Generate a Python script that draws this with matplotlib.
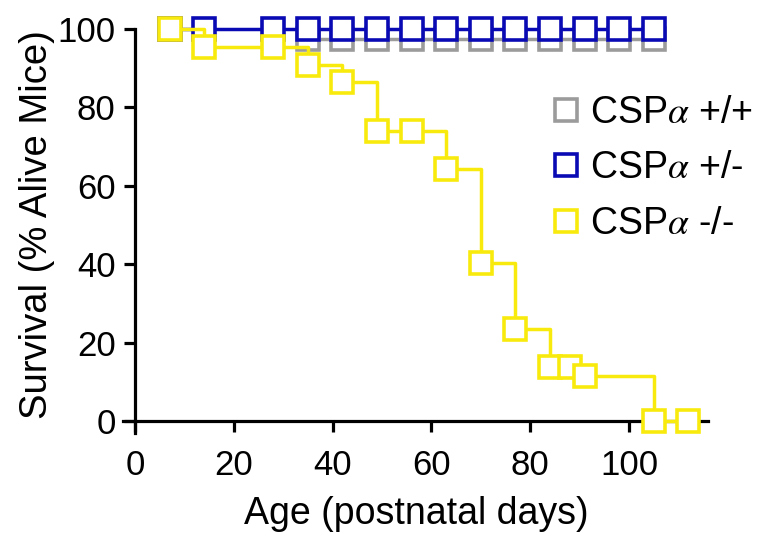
import matplotlib
matplotlib.use('Agg')
import matplotlib.pyplot as plt
from matplotlib.lines import Line2D

plt.rcParams['font.family'] = ['Liberation Sans', 'DejaVu Sans']
plt.rcParams['mathtext.fontset'] = 'stix'

# Kaplan-Meier style survival data
wt_days = [35, 42, 49, 56, 63, 70, 77, 84, 91, 98, 105]
wt_surv = [97.5] * 11

het_days = [7, 14, 28, 35, 42, 49, 56, 63, 70, 77, 84, 91, 98, 105]
het_surv = [100] * 14

ko_days = [7, 14, 28, 35, 42, 49, 56, 63, 70, 77, 84, 88, 91, 105, 112]
ko_surv = [100, 95.5, 95.5, 90.9, 86.4, 73.9, 73.9, 64.3, 40.2, 23.5, 13.9, 13.9, 11.6, 0, 0]

labels = [r'CSP$\alpha$ +/+', r'CSP$\alpha$ +/-', r'CSP$\alpha$ -/-']
colors = ['#9b9b9b', '#0a0ab4', '#f7ea0c']

W, H = 771, 533
fig = plt.figure(figsize=(W/100, H/100), dpi=100)
# axes placed so that day 0 -> x=135px, 4.94 px/day ; 0% -> y=421px, 3.92 px/%
x0, xs = 135, 4.94
y0, ys = 421, 3.92
xlo, xhi = -4, 118
ylo, yhi = -5, 105
left = (x0 + xs*xlo) / W
right = (x0 + xs*xhi) / W
bottom = 1 - (y0 - ys*ylo) / H
top = 1 - (y0 - ys*yhi) / H
ax = fig.add_axes([left, bottom, right-left, top-bottom])

ms, mew, lw = 16.4, 2.6, 2.5
for d, s, c, z in [(wt_days, wt_surv, colors[0], 2),
                   (het_days, het_surv, colors[1], 3),
                   (ko_days, ko_surv, colors[2], 4)]:
    ax.plot(d, s, drawstyle='steps-post', color=c, lw=lw, zorder=z, clip_on=False)
    ax.plot(d, s, ls='none', marker='s', ms=ms, mew=mew, mec=c, mfc='white',
            zorder=z, clip_on=False)

ax.set_xlim(xlo, xhi)
ax.set_ylim(ylo, yhi)
for sp in ['top', 'right']:
    ax.spines[sp].set_visible(False)
ax.spines['left'].set_position(('data', 0))
ax.spines['bottom'].set_position(('data', 0))
ax.spines['left'].set_bounds(-3, 100)
ax.spines['bottom'].set_bounds(-2.5, 116)
for sp in ['left', 'bottom']:
    ax.spines[sp].set_linewidth(2.3)
    ax.spines[sp].set_zorder(1)

ax.set_xticks([0, 20, 40, 60, 80, 100])
ax.set_yticks([0, 20, 40, 60, 80, 100])
ax.tick_params(axis='both', direction='out', length=8, width=2.3, labelsize=25)
ax.tick_params(axis='x', pad=12)
ax.tick_params(axis='y', pad=6)

ax.set_xlabel('Age (postnatal days)', fontsize=27, labelpad=10)
ax.set_ylabel('Survival (% Alive Mice)', fontsize=27.5, labelpad=2)

handles = [Line2D([], [], ls='none', marker='s', ms=ms, mew=mew, mec=c, mfc='white')
           for c in colors]
fig.legend(handles, labels, loc='upper left', bbox_to_anchor=(553/W, 1 - 95/H),
           frameon=False, fontsize=27, handlelength=0.7, handletextpad=0.3,
           labelspacing=0.52, borderpad=0, borderaxespad=0)

fig.savefig('out.png', dpi=100)
